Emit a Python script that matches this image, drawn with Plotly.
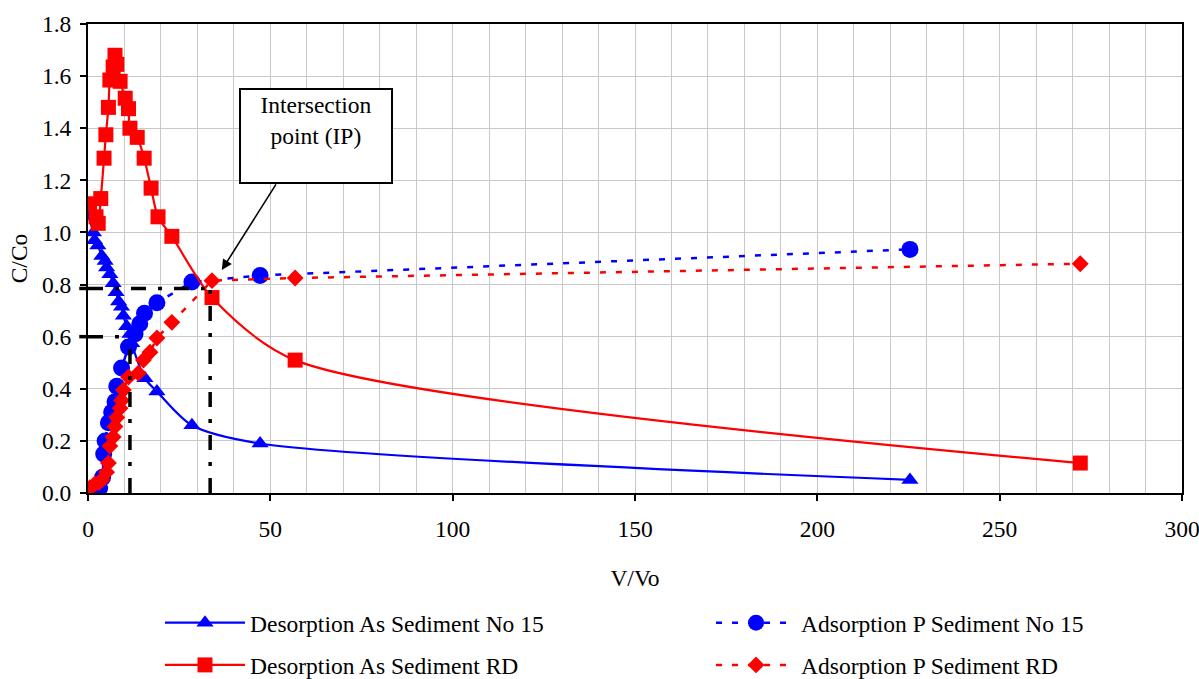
import plotly.graph_objects as go

# Desorption As, sediment No 15
des15_x = [0.0, 1.5, 1.8, 2.7, 3.8, 4.7, 5.1, 6.0, 6.9, 7.7, 8.4, 9.2, 9.7, 10.6, 11.5, 12.0,
           15.6, 18.9, 28.5, 47.2, 225.4]
des15_y = [1.065, 1.0, 0.97, 0.95, 0.91, 0.89, 0.865, 0.84, 0.805, 0.77, 0.735, 0.715, 0.68,
           0.64, 0.61, 0.575, 0.44, 0.39, 0.26, 0.19, 0.05]

# Adsorption P, sediment No 15
ads15_x = [0.3, 2.0, 3.2, 4.0, 4.3, 4.7, 5.6, 6.5, 7.4, 7.9, 9.2, 11.1, 12.9, 14.2, 15.5,
           18.9, 28.5, 47.2, 225.4]
ads15_y = [0.01, 0.0, 0.02, 0.06, 0.15, 0.20, 0.27, 0.31, 0.35, 0.41, 0.48, 0.56, 0.61,
           0.65, 0.69, 0.73, 0.81, 0.835, 0.935]

# Desorption As, sediment RD
desRD_x = [0.4, 2.2, 2.8, 3.5, 4.4, 4.9, 5.6, 6.0, 6.9, 7.4, 7.9, 8.8, 10.2, 11.1, 11.5,
           13.5, 15.4, 17.3, 19.2, 23.0, 34.0, 56.8, 272.1]
desRD_y = [1.11, 1.06, 1.035, 1.13, 1.285, 1.375, 1.48, 1.585, 1.635, 1.68, 1.645, 1.58,
           1.515, 1.475, 1.40, 1.365, 1.285, 1.17, 1.06, 0.985, 0.75, 0.51, 0.115]

# Adsorption P, sediment RD
adsRD_x = [0.5, 1.9, 3.0, 3.8, 5.1, 5.6, 6.0, 6.9, 7.4, 7.9, 8.8, 9.2, 9.7, 11.1, 13.8,
           15.2, 17.0, 18.9, 23.0, 34.0, 56.8, 272.1]
adsRD_y = [0.02, 0.035, 0.04, 0.05, 0.08, 0.115, 0.18, 0.215, 0.255, 0.29, 0.325, 0.355,
           0.395, 0.445, 0.46, 0.51, 0.54, 0.595, 0.655, 0.815, 0.825, 0.88]

# Intersection points (V/Vo, C/Co)
ip_main = (33.5, 0.785)
ip_second = (11.5, 0.60)

x_ticks = [0, 50, 100, 150, 200, 250, 300]
y_ticks = [0.0, 0.2, 0.4, 0.6, 0.8, 1.0, 1.2, 1.4, 1.6, 1.8]

FONT = "Liberation Serif"
FS = 23.5
BLUE = "#0000FF"
RED = "#FF0000"
DOT = "6px,10px"

fig = go.Figure()

fig.add_trace(go.Scatter(
    x=des15_x, y=des15_y, mode="lines+markers", name="Desorption As Sediment No 15",
    line=dict(color=BLUE, width=2.2, shape="spline", smoothing=0.8),
    marker=dict(symbol="triangle-up", size=15, color=BLUE), legend="legend"))
fig.add_trace(go.Scatter(
    x=ads15_x, y=ads15_y, mode="lines+markers", name="Adsorption P Sediment No 15",
    line=dict(color=BLUE, width=2.5, dash=DOT),
    marker=dict(symbol="circle", size=17, color=BLUE), legend="legend2"))
fig.add_trace(go.Scatter(
    x=desRD_x, y=desRD_y, mode="lines+markers", name="Desorption As Sediment RD",
    line=dict(color=RED, width=2.2, shape="spline", smoothing=0.8),
    marker=dict(symbol="square", size=15, color=RED), legend="legend3"))
fig.add_trace(go.Scatter(
    x=adsRD_x, y=adsRD_y, mode="lines+markers", name="Adsorption P Sediment RD",
    line=dict(color=RED, width=2.5, dash=DOT),
    marker=dict(symbol="diamond", size=13, color=RED), legend="legend4"))

# dash-dot guide lines to the intersection points
DASHDOT = "15px,12px,4px,12px"
guide = dict(color="black", width=3.5, dash=DASHDOT)
for px, py in (ip_main, ip_second):
    fig.add_shape(type="line", xref="x", yref="y", x0=0, x1=px, y0=py, y1=py, line=guide)
    fig.add_shape(type="line", xref="x", yref="y", x0=px, x1=px, y0=0, y1=py, line=guide)
    fig.add_shape(type="line", xref="paper", yref="paper", x0=-0.008, x1=0,
                  y0=py / 1.8, y1=py / 1.8, line=dict(color="black", width=3.5))

# callout box and arrow
fig.add_annotation(x=62.6, y=1.372, xref="x", yref="y", text="Intersection<br>point (IP)",
                   showarrow=False, width=146, height=88, valign="top", borderpad=2,
                   bordercolor="black", borderwidth=2, bgcolor="white",
                   font=dict(family=FONT, size=FS, color="black"))
fig.add_annotation(x=36.7, y=0.856, ax=51.8, ay=1.19, xref="x", yref="y", axref="x", ayref="y",
                   text="", showarrow=True, arrowhead=2, arrowsize=1.3, arrowwidth=1.6,
                   arrowcolor="black")

legend_common = dict(orientation="h", xanchor="left", yanchor="middle",
                     font=dict(family=FONT, size=FS, color="black"),
                     itemwidth=80, bgcolor="rgba(0,0,0,0)")
col1, col2 = 0.0658, 0.5695
row1, row2 = -0.277, -0.367

fig.update_layout(
    width=1199, height=679,
    margin=dict(l=88, r=17, t=24, b=186, autoexpand=False),
    paper_bgcolor="white", plot_bgcolor="white",
    font=dict(family=FONT, size=FS, color="black"),
    showlegend=True,
    legend=dict(x=col1, y=row1, **legend_common),
    legend2=dict(x=col2, y=row1, **legend_common),
    legend3=dict(x=col1, y=row2, **legend_common),
    legend4=dict(x=col2, y=row2, **legend_common),
    xaxis=dict(range=[0, 300], tickvals=x_ticks, ticks="outside", ticklen=6, tickwidth=1.5,
               tickcolor="black", showline=True, linecolor="black", linewidth=2, mirror=True,
               showgrid=True, gridcolor="#c8c8c8", gridwidth=1, zeroline=False,
               minor=dict(dtick=10, showgrid=True, gridcolor="#c8c8c8", gridwidth=1),
               title=dict(text="V/Vo", standoff=28, font=dict(family=FONT, size=FS)),
               tickfont=dict(family=FONT, size=FS), ticklabelstandoff=8,
               ticklabeloverflow="allow"),
    yaxis=dict(range=[0, 1.8], tickvals=y_ticks, tickformat=".1f", ticks="outside",
               ticklen=6, tickwidth=1.5, tickcolor="black", showline=True, linecolor="black",
               linewidth=2, mirror=True, showgrid=True, gridcolor="#c8c8c8", gridwidth=1.2,
               zeroline=False,
               title=dict(text="C/Co", standoff=8, font=dict(family=FONT, size=FS)),
               tickfont=dict(family=FONT, size=FS), ticklabelstandoff=4,
               ticklabeloverflow="allow"),
)

fig.write_html("out.html")
